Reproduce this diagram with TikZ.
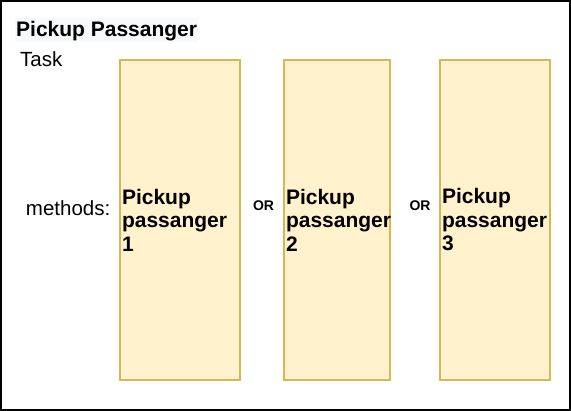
\documentclass[tikz,border=0pt]{standalone}
\usepackage{fontspec}
\setmainfont{Liberation Sans}
\usepackage{xcolor,tikz}
\definecolor{boxfill}{HTML}{FFF2CC}
\definecolor{boxline}{HTML}{D6B656}
\definecolor{titlebg}{HTML}{F8F9FA}
\begin{document}
\begin{tikzpicture}[x=1pt,y=-1pt,
                method/.style = {draw=boxline, fill=boxfill, line width=1.2pt, rectangle, inner xsep=2pt, inner ysep=0pt,
                                 minimum height=320pt, align=left, font=\bfseries\fontsize{21}{23.5}\selectfont},
                plain/.style = {inner sep=0pt, font=\fontsize{20.5}{23.5}\selectfont},
                ortext/.style = {inner sep=0pt, font=\bfseries\fontsize{14}{16}\selectfont}]
                \useasboundingbox (0,0) rectangle (571,411);
                \draw[line width=2pt] (1,1) rectangle (570,410);
                \node[plain, fill=titlebg, inner xsep=1pt, inner ysep=1pt, text height=18pt, text depth=4pt,
                      anchor=base west, font=\bfseries\fontsize{21}{23.5}\selectfont] (title) at (15,37) {Pickup Passanger};
                \node[plain, anchor=base west] (task) at (20,67) {Task};
                \node[plain, anchor=base east] (methods) at (110.5,216) {methods:};
                \node[method, minimum width=120pt, text width=116pt] (1) at (180,220) {Pickup\\passanger\\1};
                \node[method, minimum width=106pt, text width=102pt] (2) at (337,220) {Pickup\\passanger\\2};
                \node[method, minimum width=110pt, text width=106pt] (3) at (495,220) {Pickup\\passanger\\3};
                \node[ortext, anchor=base] (or1) at (263.5,211) {OR};
                \node[ortext, anchor=base] (or2) at (420,211) {OR};
            \end{tikzpicture}
\end{document}
